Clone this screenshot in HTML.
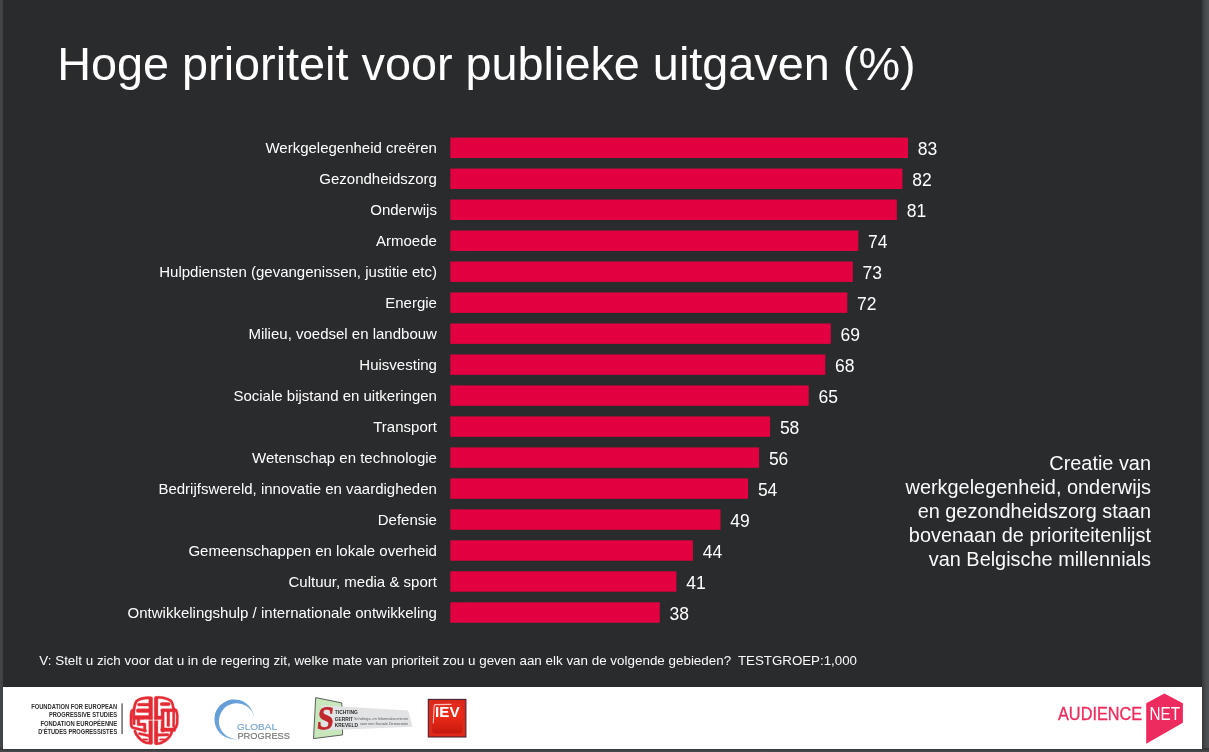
<!DOCTYPE html>
<html lang="nl"><head><meta charset="utf-8"><title>Hoge prioriteit voor publieke uitgaven</title>
<style>
html,body{margin:0;padding:0}
body{width:1209px;height:752px;overflow:hidden;position:relative;background:#525659;font-family:"Liberation Sans",sans-serif;}
#shl{position:absolute;left:0;top:0;width:4px;height:752px;background:linear-gradient(to right,#43474a 0,#3f4346 60%,#2a2b2d 100%)}
#shr{position:absolute;left:1201px;top:0;width:8px;height:752px;background:linear-gradient(to right,#2a2b2d 0,#3b3e40 25%,#484b4e 60%,#505356 100%)}
#shb{position:absolute;left:0;top:748px;width:1209px;height:4px;background:linear-gradient(to bottom,#2f3133 0,#4a4d50 100%)}
#slide{position:absolute;left:3px;top:0;width:1199px;height:749px;background:#2a2b2d;overflow:hidden}
#inner{position:absolute;left:-3px;top:0;width:1209px;height:752px}
h1{position:absolute;left:57.2px;top:37px;margin:0;font-weight:normal;font-size:46.8px;line-height:54px;color:#fff;white-space:nowrap}
.lab{position:absolute;right:772.1px;height:21px;line-height:21px;font-size:15px;color:#fff;white-space:nowrap}
.bar{position:absolute;left:450.3px;height:20.4px;background:#e30040}
.val{position:absolute;height:20px;line-height:20px;font-size:17.5px;color:#fff}
#side{position:absolute;right:58px;top:451.4px;width:300px;text-align:right;font-size:19.9px;line-height:24px;color:#fbfbfb}
#foot{position:absolute;left:39.3px;top:653px;font-size:13.424px;line-height:16px;color:#fbfbfb;white-space:nowrap}
#band{position:absolute;left:3px;top:687px;width:1199px;height:62px;background:#fff}
</style></head><body>
<div id="shl"></div><div id="shr"></div><div id="shb"></div>
<div id="slide"><div id="inner">
<h1>Hoge prioriteit voor publieke uitgaven (%)</h1>
<svg width="1209" height="752" viewBox="0 0 1209 752" style="position:absolute;left:0;top:0"><g fill="#e30040"><rect x="450.3" y="137.60" width="457.7" height="20.4"/><rect x="450.3" y="168.58" width="452.1" height="20.4"/><rect x="450.3" y="199.56" width="446.6" height="20.4"/><rect x="450.3" y="230.54" width="408.0" height="20.4"/><rect x="450.3" y="261.52" width="402.5" height="20.4"/><rect x="450.3" y="292.50" width="397.0" height="20.4"/><rect x="450.3" y="323.48" width="380.5" height="20.4"/><rect x="450.3" y="354.46" width="375.0" height="20.4"/><rect x="450.3" y="385.44" width="358.4" height="20.4"/><rect x="450.3" y="416.42" width="319.8" height="20.4"/><rect x="450.3" y="447.40" width="308.8" height="20.4"/><rect x="450.3" y="478.38" width="297.8" height="20.4"/><rect x="450.3" y="509.36" width="270.2" height="20.4"/><rect x="450.3" y="540.34" width="242.6" height="20.4"/><rect x="450.3" y="571.32" width="226.1" height="20.4"/><rect x="450.3" y="602.30" width="209.5" height="20.4"/></g></svg>
<div class="lab" style="top:137px">Werkgelegenheid creëren</div><div class="val" style="top:139px;left:917.8px">83</div>
<div class="lab" style="top:168px">Gezondheidszorg</div><div class="val" style="top:170px;left:912.2px">82</div>
<div class="lab" style="top:199px">Onderwijs</div><div class="val" style="top:201px;left:906.7px">81</div>
<div class="lab" style="top:230px">Armoede</div><div class="val" style="top:232px;left:868.1px">74</div>
<div class="lab" style="top:261px">Hulpdiensten (gevangenissen, justitie etc)</div><div class="val" style="top:263px;left:862.6px">73</div>
<div class="lab" style="top:292px">Energie</div><div class="val" style="top:294px;left:857.1px">72</div>
<div class="lab" style="top:323px">Milieu, voedsel en landbouw</div><div class="val" style="top:325px;left:840.6px">69</div>
<div class="lab" style="top:354px">Huisvesting</div><div class="val" style="top:356px;left:835.1px">68</div>
<div class="lab" style="top:385px">Sociale bijstand en uitkeringen</div><div class="val" style="top:387px;left:818.5px">65</div>
<div class="lab" style="top:416px">Transport</div><div class="val" style="top:418px;left:779.9px">58</div>
<div class="lab" style="top:447px">Wetenschap en technologie</div><div class="val" style="top:449px;left:768.9px">56</div>
<div class="lab" style="top:478px">Bedrijfswereld, innovatie en vaardigheden</div><div class="val" style="top:480px;left:757.9px">54</div>
<div class="lab" style="top:509px">Defensie</div><div class="val" style="top:511px;left:730.3px">49</div>
<div class="lab" style="top:540px">Gemeenschappen en lokale overheid</div><div class="val" style="top:542px;left:702.7px">44</div>
<div class="lab" style="top:571px">Cultuur, media &amp; sport</div><div class="val" style="top:573px;left:686.2px">41</div>
<div class="lab" style="top:602px">Ontwikkelingshulp / internationale ontwikkeling</div><div class="val" style="top:604px;left:669.6px">38</div>
<div id="side">Creatie van<br>werkgelegenheid, onderwijs<br>en gezondheidszorg staan<br>bovenaan de prioriteitenlijst<br>van Belgische millennials</div>
<div id="foot">V: Stelt u zich voor dat u in de regering zit, welke mate van prioriteit zou u geven aan elk van de volgende gebieden? <span style="margin-left:3.1px;font-size:13.3px">TESTGROEP:1,000</span></div>
<div id="band"></div>
<svg id="logos" width="1209" height="752" viewBox="0 0 1209 752" style="position:absolute;left:0;top:0">
<!-- FEPS text -->
<g font-family="'Liberation Sans',sans-serif" font-weight="bold" font-size="6.6" fill="#2e2e2e" text-anchor="end">
<text x="117.2" y="708.7" textLength="86" lengthAdjust="spacingAndGlyphs">FOUNDATION FOR EUROPEAN</text>
<text x="117.2" y="716.5" textLength="68.3" lengthAdjust="spacingAndGlyphs">PROGRESSIVE STUDIES</text>
<text x="117.2" y="726.3" textLength="76.7" lengthAdjust="spacingAndGlyphs">FONDATION EUROPÉENNE</text>
<text x="117.2" y="734.3" textLength="79" lengthAdjust="spacingAndGlyphs">D'ÉTUDES PROGRESSISTES</text>
</g>
<rect x="121.5" y="703.4" width="1.1" height="30.6" fill="#333"/>


<!-- Global Progress -->
<defs>
<filter id="soft" x="-5%" y="-5%" width="110%" height="110%"><feGaussianBlur stdDeviation="8"/></filter>
<linearGradient id="gpg" x1="0" y1="0" x2="1" y2="1"><stop offset="0" stop-color="#5f9ad6"/><stop offset="1" stop-color="#7fb0de"/></linearGradient>
<linearGradient id="iev" x1="0" y1="0" x2="0" y2="1"><stop offset="0" stop-color="#e52a1c"/><stop offset="0.45" stop-color="#ec2a18"/><stop offset="1" stop-color="#c4190f"/></linearGradient>
<linearGradient id="ievb" x1="0" y1="0" x2="0" y2="1"><stop offset="0" stop-color="#d9281c"/><stop offset="1" stop-color="#e0281a"/></linearGradient>
</defs>
<path d="M254.02 716.64 A19.9 19.9 0 1 0 237.14 739 A17.85 17.85 0 1 1 254.02 716.64 Z" fill="url(#gpg)"/>
<g font-family="'Liberation Sans',sans-serif" stroke-width="0.18">
<text x="237.0" y="730" font-size="9.1" textLength="40" lengthAdjust="spacingAndGlyphs" fill="#7ba8d4" stroke="#7ba8d4">GLOBAL</text>
<text x="237.4" y="739.1" font-size="9.7" textLength="52.6" lengthAdjust="spacingAndGlyphs" fill="#767676" stroke="#767676">PROGRESS</text>
</g>
<!-- Stichting Gerrit Kreveld -->
<polygon points="315.7,697.6 341.8,702.9 342.6,734.9 313.5,738.6" fill="#c8e6bc" stroke="#3a3a3a" stroke-width="0.8" stroke-linejoin="round"/>
<polygon points="321.5,705.3 408.1,710.4 412.6,726.8 321.6,730.4" fill="#e2e3e4"/>
<text x="0" y="0" transform="translate(316.6,729) skewX(-6)" font-family="'Liberation Serif',serif" font-weight="bold" font-size="32.5" textLength="16.2" lengthAdjust="spacingAndGlyphs" fill="#c1272d" stroke="#c1272d" stroke-width="0.9">S</text>
<g font-family="'Liberation Sans',sans-serif" font-weight="bold" font-size="6.1" fill="#2a2a2a">
<text x="334.8" y="714.1" textLength="23.1" lengthAdjust="spacingAndGlyphs">TICHTING</text>
<text x="334.8" y="720.5" textLength="18.2" lengthAdjust="spacingAndGlyphs">GERRIT</text>
<text x="334.8" y="726.9" textLength="23.1" lengthAdjust="spacingAndGlyphs">KREVELD</text>
</g>
<g font-family="'Liberation Sans',sans-serif" font-size="3.3" fill="#5a5a5a">
<text x="354" y="719.9" textLength="54.1" lengthAdjust="spacingAndGlyphs">Scholings- en Informatiecentrum</text>
<text x="359.9" y="724.5" textLength="48.2" lengthAdjust="spacingAndGlyphs">voor een Sociale Democratie</text>
</g>
<!-- IEV -->
<rect x="428.3" y="699.4" width="37.6" height="37.6" fill="url(#ievb)" stroke="#452434" stroke-width="1.1"/>
<rect x="431.8" y="703" width="30.6" height="30.6" rx="4" ry="4" fill="url(#iev)"/>
<path d="M433.3 723 L434.2 705.5 Q434.4 704.6 435.6 704.6 L451 704.4" fill="none" stroke="#fff" stroke-opacity="0.7" stroke-width="1.1" stroke-linecap="round"/>
<text x="435" y="717.3" font-family="'Liberation Sans',sans-serif" font-weight="bold" font-size="14.6" textLength="24.6" lengthAdjust="spacingAndGlyphs" fill="#fff">IEV</text>
<!-- AudienceNet -->
<polygon points="1146.2,703.2 1164.4,693.4 1182.9,703.2 1182.9,722.7 1146.2,743.7" fill="#ee2b5e"/>
<g font-family="'Liberation Sans',sans-serif" font-size="17.6" stroke-width="0.3">
<text x="1058" y="720" textLength="84.2" lengthAdjust="spacingAndGlyphs" fill="#ee2b5e" stroke="#ee2b5e">AUDIENCE</text>
<text x="1149.5" y="720" textLength="30.5" lengthAdjust="spacingAndGlyphs" fill="#fff">NET</text>
</g>
</svg>
<svg id="brain" width="1209" height="752" viewBox="0 0 1209 752" style="position:absolute;left:0;top:0">
<!-- FEPS brain: left half -->
<g transform="translate(128,694) scale(0.06916)" fill="none" stroke="#e42b34" stroke-opacity="0.33" stroke-linecap="round" stroke-linejoin="round">
<path d="M335 62 C300 46 200 62 173 75 C145 88 130 95 122 106 C110 125 102 150 99 164 L85 232 L80 330" stroke-width="50"/>
<path d="M84 230 L57 241 C47 262 45 290 45 300 L45 440 C48 470 60 486 78 489 L252 532" stroke-width="50"/>
<path d="M100 536 C108 565 125 600 150 624 C168 645 185 662 204 675 C225 692 245 700 262 704 L335 708" stroke-width="50"/>
<path d="M328 66 V700" stroke-width="69"/>
<path d="M158 154 H306" stroke-width="57"/>
<path d="M145 242 H306" stroke-width="69"/>
<path d="M95 341 H320" stroke-width="74"/>
<path d="M87 365 V430" stroke-width="50"/>
<path d="M151 365 V440 H242 V535" stroke-width="53"/>
<path d="M166 573 L306 605" stroke-width="48"/>
<path d="M222 658 H276" stroke-width="39"/>
</g>
<g transform="translate(128,694) scale(0.06916)" fill="none" stroke="#e42b34" stroke-width="35" stroke-linecap="round" stroke-linejoin="round">
<path d="M335 62 C300 46 200 62 173 75 C145 88 130 95 122 106 C110 125 102 150 99 164 L85 232 L80 330"/>
<path d="M84 230 L57 241 C47 262 45 290 45 300 L45 440 C48 470 60 486 78 489 L252 532"/>
<path d="M100 536 C108 565 125 600 150 624 C168 645 185 662 204 675 C225 692 245 700 262 704 L335 708"/>
<path d="M328 66 V700" stroke-width="54"/>
<path d="M158 154 H306" stroke-width="42"/>
<path d="M145 242 H306" stroke-width="54"/>
<path d="M95 341 H320" stroke-width="59"/>
<path d="M87 365 V430" stroke-width="35"/>
<path d="M151 365 V440 H242 V535" stroke-width="38"/>
<path d="M166 573 L306 605" stroke-width="33"/>
<path d="M222 658 H276" stroke-width="24"/>
</g>
<!-- right half -->
<g transform="translate(152,694) scale(0.06916)" fill="none" stroke="#e42b34" stroke-opacity="0.33" stroke-linecap="round" stroke-linejoin="round">
<path d="M62 52 C100 48 144 50 180 58 C215 66 250 82 271 98 C284 112 292 130 296 145 L312 215" stroke-width="48"/>
<path d="M312 220 L346 237 C360 258 365 290 366 310 L364 430 C358 465 345 490 322 506" stroke-width="48"/>
<path d="M288 540 C284 560 278 575 271 589 C260 610 246 628 231 641 C215 660 192 678 173 687 C150 700 125 712 104 714 L62 716" stroke-width="48"/>
<path d="M59 62 V708" stroke-width="67"/>
<path d="M140 146 H240" stroke-width="62"/>
<path d="M150 235 H340" stroke-width="60"/>
<path d="M154 240 V530" stroke-width="60"/>
<path d="M64 346 H135" stroke-width="69"/>
<path d="M236 250 V452" stroke-width="55"/>
<path d="M313 262 L313 470" stroke-width="48"/>
<path d="M150 517 H318" stroke-width="69"/>
<path d="M84 592 L228 588" stroke-width="50"/>
<path d="M120 658 H192" stroke-width="39"/>
</g>
<g transform="translate(152,694) scale(0.06916)" fill="none" stroke="#e42b34" stroke-width="33" stroke-linecap="round" stroke-linejoin="round">
<path d="M62 52 C100 48 144 50 180 58 C215 66 250 82 271 98 C284 112 292 130 296 145 L312 215"/>
<path d="M312 220 L346 237 C360 258 365 290 366 310 L364 430 C358 465 345 490 322 506"/>
<path d="M288 540 C284 560 278 575 271 589 C260 610 246 628 231 641 C215 660 192 678 173 687 C150 700 125 712 104 714 L62 716"/>
<path d="M59 62 V708" stroke-width="52"/>
<path d="M140 146 H240" stroke-width="47"/>
<path d="M150 235 H340" stroke-width="45"/>
<path d="M154 240 V530" stroke-width="45"/>
<path d="M64 346 H135" stroke-width="54"/>
<path d="M236 250 V452" stroke-width="40"/>
<path d="M313 262 L313 470" stroke-width="33"/>
<path d="M150 517 H318" stroke-width="54"/>
<path d="M84 592 L228 588" stroke-width="35"/>
<path d="M120 658 H192" stroke-width="24"/>
</g>
<rect x="144" y="719.7" width="18" height="0.9" fill="#fff" opacity="0.75"/>
</svg>

</div></div>
</body></html>
